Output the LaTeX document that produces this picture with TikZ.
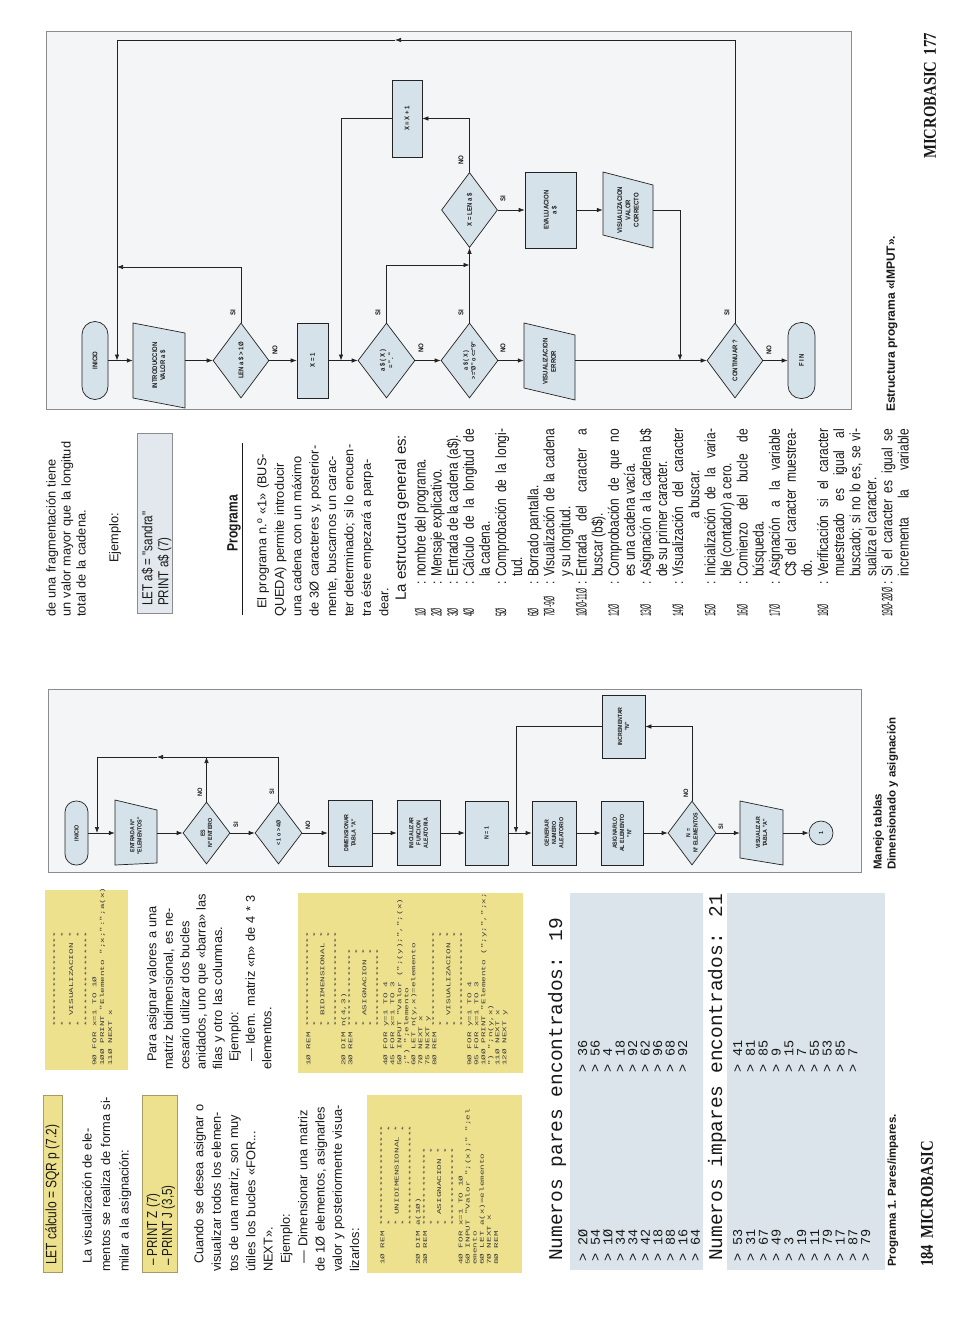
\documentclass[tikz,border=0pt]{standalone}
\usepackage{fontspec}
\setmainfont{Liberation Sans}
\newfontfamily\condfont{Liberation Sans}[FakeStretch=0.8]
\newfontfamily\numfont{Liberation Sans}[FakeStretch=0.45]
\newfontfamily\fcfont{Liberation Sans}[FakeStretch=0.88]
\newfontfamily\codefont{Liberation Mono}[FakeStretch=1.6]
\newfontfamily\outfont{Liberation Mono}
\newfontfamily\pgserif{Liberation Serif}[FakeStretch=0.82]
\usetikzlibrary{arrows.meta,shapes.geometric,calc}
\lineskiplimit=-30pt
\definecolor{ylw}{RGB}{237,225,142}
\definecolor{ylwd}{RGB}{165,155,100}
\definecolor{pblue}{RGB}{218,228,234}
\definecolor{nfill}{RGB}{214,226,233}
\definecolor{ffill}{RGB}{244,245,246}
\definecolor{fbord}{RGB}{140,140,140}
\definecolor{gbox}{RGB}{226,232,237}
\definecolor{lc}{RGB}{35,35,35}
\definecolor{txt}{RGB}{25,25,25}
\newcommand\jl[2]{\makebox[#1pt][s]{#2}}
\newlength\cw
\setlength\cw{5.57pt}
\newcommand\cind[1]{\hspace*{#1\cw}}
\newcommand\ent[1]{\makebox[31pt][l]{\numfont #1}\makebox[6pt][c]{:}\hspace*{3pt}}
\newcommand\noent{\hspace*{40pt}}
\newcommand\js[1]{\makebox[148pt][s]{#1}}
\tikzset{
  shp/.style={draw=lc, fill=nfill, line width=0.7pt},
  fcbox/.style={shp, rectangle, inner sep=0},
  fcdia/.style={shp, diamond, inner sep=0},
  fcterm/.style={shp, rectangle, rounded corners=11pt, inner sep=0},
  inv/.style={rectangle, inner sep=0},
  fctL/.style={rotate=90, align=center, inner sep=0, text=txt, font=\fcfont\bfseries\fontsize{6}{7.2}\selectfont},
  fctR/.style={rotate=90, align=center, inner sep=0, text=txt, font=\fcfont\bfseries\fontsize{6.8}{8.2}\selectfont},
  labL/.style={rotate=90, inner sep=0, text=txt, font=\fcfont\bfseries\fontsize{6.5}{6.5}\selectfont},
  labR/.style={rotate=90, inner sep=0, text=txt, font=\fcfont\bfseries\fontsize{7}{7}\selectfont},
  conn/.style={draw=lc, line width=0.7pt},
  arr/.style={conn, -{Latex[length=6pt,width=4.5pt]}},
  body/.style={rotate=90, inner sep=0, align=left, text=txt},
  code/.style={rotate=90, inner sep=0, align=left, text=txt!85},
  rows/.style={rotate=90, inner sep=0, align=left, text=txt},
  capb/.style={rotate=90, inner sep=0, align=left, text=txt, font=\bfseries\fontsize{11.5}{14}\selectfont},
}
\begin{document}
\begin{tikzpicture}[x=1pt,y=-1pt]
\fill[white] (0,0) rectangle (970,1322);
\useasboundingbox (0,0) rectangle (970,1322);

%% ================= LEFT PAGE (184) =================
% column 1
\filldraw[fill=ylw, draw=ylwd, line width=0.8pt] (43,1095) rectangle (62,1272);
\node[body, anchor=west, font=\condfont\fontsize{15}{15}\selectfont] (let1) at (52.5,1265) {LET cálculo = SQR p (7.2)};
\node[body, anchor=north west, text width=177, font=\fontsize{12.8}{18.5}\selectfont] (p1) at (82,1272)
 {\jl{177}{\hspace*{8pt}La visualización de ele-}\\\jl{177}{mentos se realiza de forma si-}\\milar a la asignación:};
\filldraw[fill=ylw, draw=ylwd, line width=0.8pt] (142,1095) rectangle (177,1272);
\node[body, anchor=north west, font=\condfont\fontsize{14.5}{15}\selectfont] (pr1) at (146.5,1266) {– PRINT Z (7)\\– PRINT J (3,5)};
\node[body, anchor=north west, text width=177, font=\fontsize{12.8}{17.3}\selectfont] (p2) at (194,1272)
 {\jl{177}{\hspace*{8pt}Cuando se desea asignar o}\\
  \jl{177}{visualizar todos los elemen-}\\
  \jl{177}{tos de una matriz, son muy}\\
  \jl{177}{útiles los bucles «FOR...}\\
  NEXT».\\
  \hspace*{8pt}Ejemplo:\\
  \jl{177}{\hspace*{8pt}— Dimensionar una matriz}\\
  \jl{177}{de 1Ø elementos, asignarles}\\
  \jl{177}{valor y posteriormente visua-}\\
  lizarlos:};
\fill[ylw] (367,1095) rectangle (522,1273);
\node[code, anchor=north west, font=\codefont\fontsize{5.8}{7.1}\selectfont] (cb1) at (380,1265)
 {1Ø REM ******************\\
  \cind{7}*\cind{16}*\\
  \cind{7}* UNIDIMENSIONAL *\\
  \cind{7}*\cind{16}*\\
  \cind{7}******************\\
  2Ø DIM a(1Ø)\\
  3Ø REM **************\\
  \cind{7}*\cind{12}*\\
  \cind{7}* ASIGNACION *\\
  \cind{7}*\cind{12}*\\
  \cind{7}**************\\
  4Ø FOR x=1 TO 1Ø\\
  5Ø INPUT "Valor ";(x);" ";el\\
  emento\\
  6Ø LET a(x)=elemento\\
  7Ø NEXT x\\
  8Ø REM};

% column 2
\fill[ylw] (45,890) rectangle (128,1070);
\node[code, anchor=north west, font=\codefont\fontsize{5.8}{7.8}\selectfont] (cb3) at (53,1066)
 {\cind{7}*****************\\
  \cind{7}*\cind{15}*\\
  \cind{7}* VISUALIZACION *\\
  \cind{7}*\cind{15}*\\
  \cind{7}*****************\\
  9Ø FOR x=1 TO 1Ø\\
  1ØØ PRINT "Elemento ";x;":";a(x)\\
  11Ø NEXT x};
\node[body, anchor=north west, text width=180, font=\fontsize{12.8}{16.4}\selectfont] (p3) at (147,1070)
 {\jl{180}{\hspace*{8pt}Para asignar valores a una}\\
  \jl{180}{matriz bidimensional, es ne-}\\
  \jl{180}{cesario utilizar dos bucles}\\
  \jl{180}{anidados, uno que «barra» las}\\
  filas y otro las columnas.\\
  \hspace*{8pt}Ejemplo:\\
  \jl{180}{\hspace*{8pt}— Idem. matriz «n» de 4 * 3}\\
  elementos.};
\fill[ylw] (298,893) rectangle (523,1073);
\node[code, anchor=north west, font=\codefont\fontsize{5.8}{7.0}\selectfont] (cb2) at (306,1066)
 {1Ø REM *****************\\
  \cind{7}*\cind{15}*\\
  \cind{7}* BIDIMENSIONAL *\\
  \cind{7}*\cind{15}*\\
  \cind{7}*****************\\
  2Ø DIM n(4,3)\\
  3Ø REM **************\\
  \cind{7}*\cind{12}*\\
  \cind{7}* ASIGNACION *\\
  \cind{7}*\cind{12}*\\
  \cind{7}**************\\
  4Ø FOR y=1 TO 4\\
  45 FOR x=1 TO 3\\
  5Ø INPUT "Valor (";(y);",";(x)\\
  ;") ";elemento\\
  6Ø LET n(y,x)=elemento\\
  7Ø NEXT x\\
  75 NEXT y\\
  8Ø REM *****************\\
  \cind{7}*\cind{15}*\\
  \cind{7}* VISUALIZACION *\\
  \cind{7}*\cind{15}*\\
  \cind{7}*****************\\
  9Ø FOR y=1 TO 4\\
  95 FOR x=1 TO 3\\
  1ØØ PRINT "Elemento (";y;",";x;\\
  ") ";n(y,x)\\
  11Ø NEXT x\\
  12Ø NEXT y};

% flowchart (left page)
\fill[ffill] (48,689) rectangle (861,872);
\draw[fbord, line width=0.8pt] (48,689) rectangle (861,872);
\node[fcterm, minimum width=23, minimum height=64] (Li) at (76.5,833) {};
\node[fctL] (Lit) at (Li) {INICIO};
\node[inv, minimum width=42, minimum height=65] (Le) at (136,833) {};
\draw[shp] ($(Le)+(-21,-33)$) -- ($(Le)+(21,-23)$) -- ($(Le)+(21,30)$) -- ($(Le)+(-21,32)$) -- cycle;
\node[fctL] (Let) at ($(Le)+(0,3)$) {ENTRADA Nº\\"ELEMENTOS"};
\node[fcdia, minimum width=47, minimum height=62] (Ld1) at (206.5,833) {};
\node[fctL] (Ld1t) at (Ld1) {ES\\Nº ENTERO};
\node[fcdia, minimum width=47, minimum height=62] (Ld2) at (278.5,833) {};
\node[fctL] (Ld2t) at (Ld2) {< 1 o > 4Ø};
\node[fcbox, minimum width=44, minimum height=66] (Ldim) at (350,833) {};
\node[fctL] (Ldimt) at (Ldim) {DIMENSIONAR\\TABLA "A"};
\node[fcbox, minimum width=43, minimum height=65] (Lini) at (418.5,833) {};
\node[fctL] (Linit) at (Lini) {INICIALIZAR\\FUNCION\\ALEATORIA};
\node[fcbox, minimum width=43, minimum height=64] (Ln1) at (486.5,833) {};
\node[fctL] (Ln1t) at (Ln1) {N = 1};
\node[fcbox, minimum width=44, minimum height=64] (Lgen) at (554,833) {};
\node[fctL] (Lgent) at (Lgen) {GENERAR\\NUMERO\\ALEATORIO};
\node[fcbox, minimum width=42, minimum height=64] (Lasi) at (622,833) {};
\node[fctL] (Lasit) at (Lasi) {ASIGNARLO\\AL ELEMENTO\\"N"};
\node[fcbox, minimum width=43, minimum height=63] (Linc) at (623.5,726.5) {};
\node[fctL] (Linct) at (Linc) {INCREMENTAR\\"N"};
\node[fcdia, minimum width=48, minimum height=64] (Ld3) at (692,833) {};
\node[fctL] (Ld3t) at (Ld3) {N =\\Nº ELEMENTOS};
\node[inv, minimum width=43, minimum height=64] (Lvis) at (761.5,833) {};
\draw[shp] ($(Lvis)+(-21.5,-32)$) -- ($(Lvis)+(21.5,-23)$) -- ($(Lvis)+(21.5,32)$) -- ($(Lvis)+(-21.5,25)$) -- cycle;
\node[fctL] (Lvist) at (Lvis) {VISUALIZAR\\TABLA "A"};
\node[shp, circle, minimum size=24, inner sep=0] (Lc) at (821,833) {};
\node[fctL] (Lct) at (Lc) {1};

\draw[arr] (Li.east) -- (Le.west);
\draw[arr] (Le.east) -- (Ld1.west);
\draw[arr] (Ld1.east) -- (Ld2.west);
\draw[arr] (Ld2.east) -- (Ldim.west);
\draw[arr] (Ldim.east) -- (Lini.west);
\draw[arr] (Lini.east) -- (Ln1.west);
\draw[arr] (Ln1.east) -- (Lgen.west);
\draw[arr] (Lgen.east) -- (Lasi.west);
\draw[arr] (Lasi.east) -- (Ld3.west);
\draw[arr] (Ld3.east) -- (Lvis.west);
\draw[arr] (Lvis.east) -- (Lc.west);
\coordinate (Lk1) at (157,757);
\coordinate (Lk2) at (97,757);
\coordinate (Lk3) at (97,833);
\coordinate (Lk4) at (516,833);
\draw[arr] (Ld2.north) |- (Lk1);
\draw[arr] (Lk1) -- (Lk2) -- (Lk3);
\draw[arr] (Ld1.north) -- (Ld1.north |- Lk2);
\draw[arr] (Ld3.north) |- (Linc.east);
\draw[arr] (Linc.west) -| (Lk4);

\node[labL] (lL1) at (200,792) {NO};
\node[labL] (lL2) at (236,825) {SI};
\node[labL] (lL3) at (272,792) {SI};
\node[labL] (lL4) at (308,825) {NO};
\node[labL] (lL5) at (686,793) {NO};
\node[labL] (lL6) at (721,827) {SI};

\node[capb, anchor=north west] (capL) at (873,870) {Manejo tablas\\Dimensionado y asignación};

% output panels
\node[rotate=90, anchor=west, inner sep=0, text=txt, font=\outfont\fontsize{19.5}{20}\selectfont] (h1) at (557,1261) {Numeros pares encontrados: 19};
\fill[pblue] (570,893) rectangle (703,1270);
\node[rows, anchor=north west, font=\outfont\fontsize{13.5}{12.5}\selectfont] (pa) at (578,1262)
 {> 2Ø\\> 54\\> 1Ø\\> 34\\> 34\\> 42\\> 18\\> 88\\> 16\\> 64};
\node[rows, anchor=north west, font=\outfont\fontsize{13.5}{12.5}\selectfont] (pb) at (578,1073)
 {> 36\\> 56\\> 4\\> 18\\> 92\\> 62\\> 96\\> 68\\> 92};
\node[rotate=90, anchor=west, inner sep=0, text=txt, font=\outfont\fontsize{19.5}{20}\selectfont] (h2) at (717,1261) {Numeros impares encontrados: 21};
\fill[pblue] (727,893) rectangle (885,1270);
\node[rows, anchor=north west, font=\outfont\fontsize{13.5}{12.8}\selectfont] (ia) at (733,1262)
 {> 53\\> 31\\> 67\\> 49\\> 3\\> 19\\> 11\\> 79\\> 17\\> 87\\> 79};
\node[rows, anchor=north west, font=\outfont\fontsize{13.5}{12.8}\selectfont] (ib) at (733,1073)
 {> 41\\> 81\\> 85\\> 9\\> 15\\> 7\\> 55\\> 53\\> 85\\> 7};

\node[rotate=90, anchor=west, inner sep=0, text=txt, font=\bfseries\fontsize{11.5}{12}\selectfont] (capP) at (893,1267) {Programa 1. Pares/impares.};
\node[rotate=90, anchor=west, inner sep=0, text=txt, font=\pgserif\bfseries\fontsize{18}{18}\selectfont] (pn1) at (927,1267) {184\hspace{6pt}MICROBASIC};

%% ================= RIGHT PAGE (177) =================
\node[body, anchor=north west, text width=180, font=\fontsize{12.8}{15}\selectfont] (q1) at (46,617)
 {\jl{180}{de una fragmentación tiene}\\\jl{180}{un valor mayor que la longitud}\\total de la cadena.};
\node[body, anchor=west, font=\fontsize{12.8}{15}\selectfont] (ej2) at (115,563) {Ejemplo:};
\filldraw[fill=gbox, draw=fbord, line width=0.8pt] (137,433) rectangle (172,613);
\node[body, anchor=north west, font=\condfont\fontsize{14.5}{16}\selectfont] (la) at (141.5,606) {LET a\$ = "sandra"\\PRINT a\$ (7)};
\node[rotate=90, inner sep=0, text=txt, font=\condfont\bfseries\fontsize{15}{15}\selectfont] (prg) at (234,523) {Programa};
\draw[txt, line width=0.7pt] (242,443) -- (242,615);
\node[body, anchor=north west, text width=180, font=\fontsize{12.8}{17.4}\selectfont] (q2) at (257,617)
 {\jl{180}{\hspace*{8pt}El programa n.º «1» (BUS-}\\
  \jl{180}{QUEDA) permite introducir}\\
  \jl{180}{una cadena con un máximo}\\
  \jl{180}{de 3Ø caracteres y, posterior-}\\
  \jl{180}{mente, buscarnos un carac-}\\
  \jl{180}{ter determinado; si lo encuen-}\\
  \jl{180}{tra éste empezará a parpa-}\\
  dear.};
\node[body, anchor=west, font=\fontsize{15}{16}\selectfont] (est) at (402,601) {La estructura general es:};
\node[body, anchor=north west, font=\condfont\fontsize{15}{16.1}\selectfont] (lst) at (414.5,617)
 {\ent{1Ø}nombre del programa.\\
  \ent{2Ø}Mensaje explicativo.\\
  \ent{3Ø}Entrada de la cadena (a\$).\\
  \ent{4Ø}\js{Cálculo de la longitud de}\\
  \noent la cadena.\\
  \ent{5Ø}\js{Comprobación de la longi-}\\
  \noent tud.\\
  \ent{6Ø}Borrado pantalla.\\
  \ent{7Ø-9Ø}\js{Visualización de la cadena}\\
  \noent y su longitud.\\
  \ent{1ØØ-11Ø}\js{Entrada del caracter a}\\
  \noent buscar (b\$).\\
  \ent{12Ø}\js{Comprobación de que no}\\
  \noent es una cadena vacía.\\
  \ent{13Ø}\js{Asignación a la cadena b\$}\\
  \noent de su primer caracter.\\
  \ent{14Ø}\js{Visualización del caracter}\\
  \noent\hspace*{58pt}a buscar.\\
  \ent{15Ø}\js{Inicialización de la varia-}\\
  \noent ble (contador) a cero.\\
  \ent{16Ø}\js{Comienzo del bucle de}\\
  \noent búsqueda.\\
  \ent{17Ø}\js{Asignación a la variable}\\
  \noent\js{C\$ del caracter muestrea-}\\
  \noent do.\\
  \ent{18Ø}\js{Verificación si el caracter}\\
  \noent\js{muestreado es igual al}\\
  \noent\js{buscado; si no lo es, se vi-}\\
  \noent sualiza el caracter.\\
  \ent{19Ø-2ØØ}\js{Si el caracter es igual se}\\
  \noent\js{incrementa la variable}};

% flowchart (right page)
\fill[ffill] (46,31) rectangle (851,409);
\draw[fbord, line width=0.8pt] (46,31) rectangle (851,409);
\node[fcterm, rounded corners=13pt, minimum width=26, minimum height=78] (Ri) at (95,360.5) {};
\node[fctR] (Rit) at (Ri) {INICIO};
\node[inv, minimum width=52, minimum height=75] (Rin) at (159,360.5) {};
\draw[shp] ($(Rin)+(-26,-37.5)$) -- ($(Rin)+(26,-27.5)$) -- ($(Rin)+(26,47.5)$) -- ($(Rin)+(-26,37.5)$) -- cycle;
\node[fctR] (Rint) at ($(Rin)+(0,5)$) {INTRODUCCION\\VALOR a \$};
\node[fcdia, minimum width=56, minimum height=75] (Rd1) at (241,360.5) {};
\node[fctR] (Rd1t) at (Rd1) {LEN a \$ > 1Ø};
\node[fcbox, minimum width=31, minimum height=75] (Rx1) at (312.5,360.5) {};
\node[fctR] (Rx1t) at (Rx1) {X = 1};
\node[fcdia, minimum width=57, minimum height=75] (Rda) at (386.5,360.5) {};
\node[fctR] (Rdat) at (Rda) {a \$ ( X )\\= " . "};
\node[fcdia, minimum width=57, minimum height=75] (Rdb) at (469.5,360.5) {};
\node[fctR, font=\fcfont\bfseries\fontsize{6.3}{7.8}\selectfont] (Rdbt) at (Rdb) {a \$ ( X )\\>="Ø" o <="9"};
\node[inv, minimum width=51, minimum height=75] (Rve) at (549.5,360.5) {};
\draw[shp] ($(Rve)+(-25.5,-37.5)$) -- ($(Rve)+(25.5,-25.5)$) -- ($(Rve)+(25.5,39.5)$) -- ($(Rve)+(-25.5,27.5)$) -- cycle;
\node[fctR] (Rvet) at ($(Rve)+(0,1)$) {VISUALIZACION\\ERROR};
\node[fcdia, minimum width=56, minimum height=75] (Rco) at (735,360.5) {};
\node[fctR] (Rcot) at (Rco) {CONTINUAR ?};
\node[fcterm, rounded corners=13pt, minimum width=27, minimum height=76] (Rfin) at (801.5,360.5) {};
\node[fctR] (Rfint) at (Rfin) {F I N};
\node[fcbox, minimum width=30, minimum height=77] (Rxx) at (407,118.5) {};
\node[fctR] (Rxxt) at (Rxx) {X = X + 1};
\node[fcdia, minimum width=56, minimum height=75] (Rxl) at (469.5,210) {};
\node[fctR] (Rxlt) at (Rxl) {X = LEN a \$};
\node[fcbox, minimum width=51, minimum height=76] (Rev) at (550.5,210) {};
\node[fctR] (Revt) at (Rev) {EVALUACION\\a \$};
\node[inv, minimum width=50, minimum height=76] (Rvc) at (628,210) {};
\draw[shp] ($(Rvc)+(-25,-38)$) -- ($(Rvc)+(25,-25)$) -- ($(Rvc)+(25,38)$) -- ($(Rvc)+(-25,25)$) -- cycle;
\node[fctR] (Rvct) at (Rvc) {VISUALIZACION\\VALOR\\CORRECTO};

\draw[arr] (Ri.east) -- (Rin.west);
\draw[arr] (Rin.east) -- (Rd1.west);
\draw[arr] (Rd1.east) -- (Rx1.west);
\draw[arr] (Rx1.east) -- (Rda.west);
\draw[arr] (Rda.east) -- (Rdb.west);
\draw[arr] (Rdb.east) -- (Rve.west);
\draw[arr] (Rve.east) -- (Rco.west);
\draw[arr] (Rco.east) -- (Rfin.west);
\coordinate (Rk1) at (395,40);
\coordinate (Rk2) at (117,40);
\coordinate (Rk3) at (117,360.5);
\coordinate (Rk4) at (117,267);
\coordinate (Rk5) at (341,360.5);
\coordinate (Rk6) at (469.5,265);
\coordinate (Rk7) at (680,360.5);
\draw[arr] (Rco.north) |- (Rk1);
\draw[arr] (Rk1) -- (Rk2) -- (Rk3);
\draw[arr] (Rd1.north) |- (Rk4);
\draw[arr] (Rxl.north) |- (Rxx.east);
\draw[arr] (Rxx.west) -| (Rk5);
\draw[arr] (Rda.north) |- (Rk6);
\draw[arr] (Rdb.north) -- (Rxl.south);
\draw[arr] (Rxl.east) -- (Rev.west);
\draw[arr] (Rev.east) -- (Rvc.west);
\draw[arr] (Rvc.east) -| (Rk7);

\node[labR] (lR1) at (233,313) {SI};
\node[labR] (lR2) at (275,350) {NO};
\node[labR] (lR3) at (378,313) {SI};
\node[labR] (lR4) at (421,348) {NO};
\node[labR] (lR5) at (461,313) {SI};
\node[labR] (lR6) at (503,348) {NO};
\node[labR] (lR7) at (461,160) {NO};
\node[labR] (lR8) at (503,199) {SI};
\node[labR] (lR9) at (727,313) {SI};
\node[labR] (lR10) at (769,350) {NO};

\node[rotate=90, anchor=west, inner sep=0, text=txt, font=\bfseries\fontsize{12}{12}\selectfont] (capR) at (892,412) {Estructura programa «IMPUT».};
\node[rotate=90, anchor=east, inner sep=0, text=txt, font=\pgserif\bfseries\fontsize{18}{18}\selectfont] (pn2) at (930,33) {MICROBASIC\hspace{6pt}177};
\end{tikzpicture}
\end{document}
